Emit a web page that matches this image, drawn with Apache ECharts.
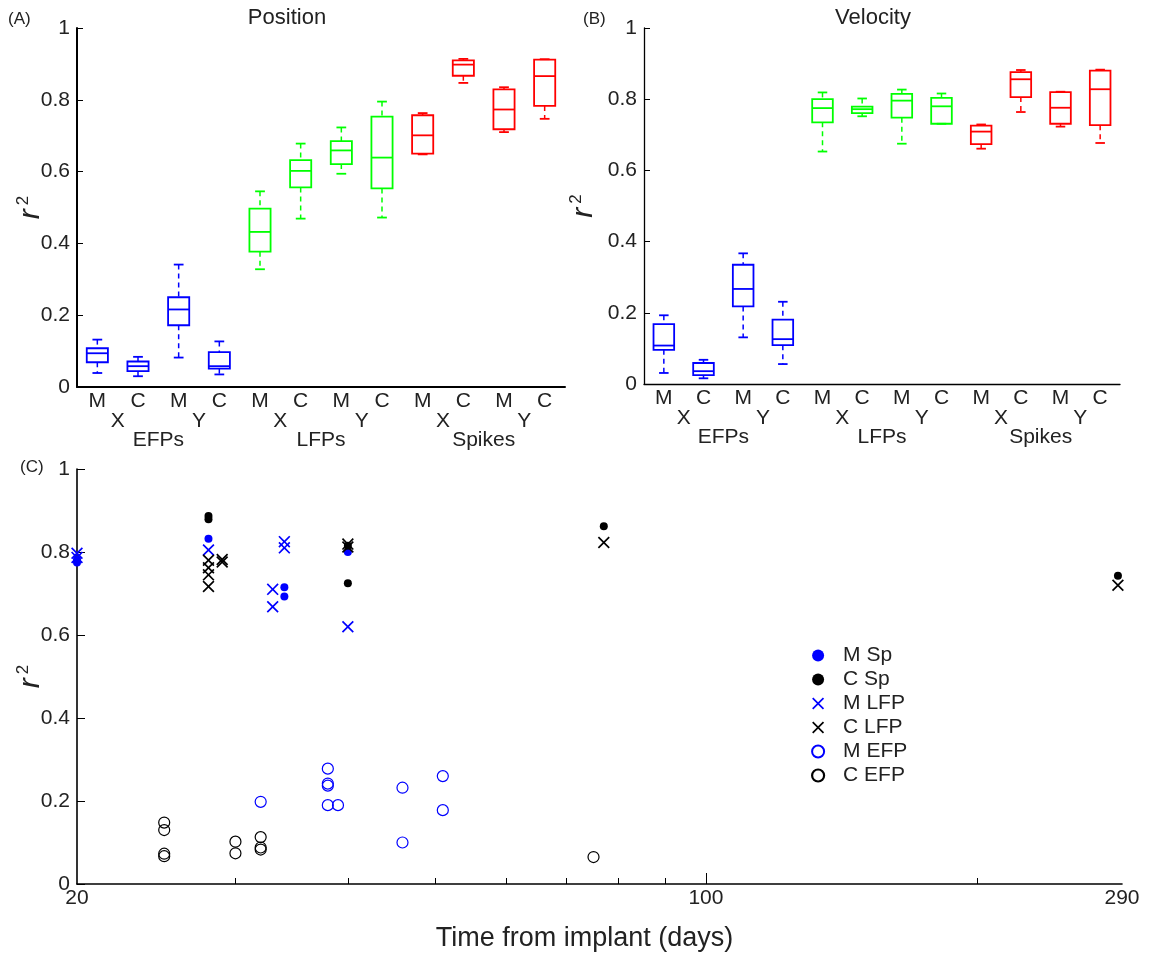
<!DOCTYPE html>
<html>
<head>
<meta charset="utf-8">
<script src="https://cdn.jsdelivr.net/npm/echarts@6.0.0/dist/echarts.min.js"></script>
<style>
  html, body { margin: 0; padding: 0; background: #fff; }
  #main { width: 1156px; height: 954px; }
</style>
</head>
<body>
<div id="main"></div>
<script>
// categories under the box plots
const cats = ["M", "C", "M", "C", "M", "C", "M", "C", "M", "C", "M", "C"];
const subPos = [0.5, 2.5, 4.5, 6.5, 8.5, 10.5];
const subNames = ["X", "Y", "X", "Y", "X", "Y"];
const groupPos = [1.5, 5.5, 9.5];
const groupNames = ["EFPs", "LFPs", "Spikes"];

// box stats: [min, q1, median, q3, max], order MX, CX, MY, CY
const posEFP = [[0.039, 0.069, 0.094, 0.108, 0.132], [0.030, 0.044, 0.058, 0.071, 0.084], [0.082, 0.172, 0.216, 0.250, 0.341], [0.035, 0.051, 0.058, 0.097, 0.127]];
const posLFP = [[0.328, 0.377, 0.432, 0.497, 0.545], [0.469, 0.556, 0.602, 0.632, 0.678], [0.594, 0.621, 0.659, 0.685, 0.723], [0.472, 0.553, 0.639, 0.753, 0.795]];
const posSpk = [[0.648, 0.650, 0.701, 0.757, 0.763], [0.847, 0.867, 0.898, 0.910, 0.914], [0.710, 0.718, 0.773, 0.829, 0.835], [0.747, 0.783, 0.866, 0.912, 0.913]];
const velEFP = [[0.031, 0.096, 0.108, 0.168, 0.193], [0.016, 0.025, 0.036, 0.059, 0.068], [0.131, 0.218, 0.267, 0.335, 0.367], [0.056, 0.109, 0.126, 0.181, 0.231]];
const velLFP = [[0.653, 0.735, 0.775, 0.800, 0.819], [0.752, 0.761, 0.772, 0.779, 0.802], [0.675, 0.748, 0.796, 0.815, 0.827], [0.731, 0.731, 0.780, 0.804, 0.816]];
const velSpk = [[0.661, 0.674, 0.709, 0.726, 0.729], [0.764, 0.806, 0.856, 0.876, 0.882], [0.723, 0.731, 0.776, 0.820, 0.821], [0.677, 0.727, 0.828, 0.880, 0.883]];

// panel C: [days, r2]
const mSp = [[20, 0.782], [20, 0.775], [28, 0.832], [34, 0.715], [34, 0.693], [40, 0.80]];
const cSp = [[28, 0.887], [28, 0.879], [40, 0.815], [40, 0.725], [77, 0.862], [287, 0.743]];
const mLfp = [[20, 0.797], [20, 0.787], [28, 0.805], [33, 0.71], [33, 0.668], [34, 0.825], [34, 0.81], [40, 0.62]];
const cLfp = [[28, 0.78], [28, 0.762], [28, 0.745], [28, 0.717], [29, 0.782], [29, 0.776], [40, 0.819], [40, 0.812], [77, 0.823], [287, 0.72]];
const mEfp = [[32, 0.198], [38, 0.278], [38, 0.242], [38, 0.237], [38, 0.19], [39, 0.19], [46, 0.232], [46, 0.1], [51, 0.26], [51, 0.178]];
const cEfp = [[25, 0.148], [25, 0.13], [25, 0.073], [25, 0.067], [30, 0.102], [30, 0.074], [32, 0.113], [32, 0.088], [32, 0.083], [75, 0.065]];

const dayLabels = [20, 100, 290];
const dayMinor = [30, 40, 50, 60, 70, 80, 90, 200];

const FONT = "'Liberation Sans', Arial, sans-serif";
const TXT = "#222";
const FS = 21;
const crossPath = "path://M0,1L1,0L5,4L9,0L10,1L6,5L10,9L9,10L5,6L1,10L0,9L4,5Z";

const chart = echarts.init(document.getElementById("main"));

function renderBox(params, api) {
  const i = api.value(0);
  const pMin = api.coord([i, api.value(1)]);
  const pQ1 = api.coord([i, api.value(2)]);
  const pMed = api.coord([i, api.value(3)]);
  const pQ3 = api.coord([i, api.value(4)]);
  const pMax = api.coord([i, api.value(5)]);
  const w = api.size([1, 0])[0];
  const half = w * 0.26;
  const cap = w * 0.12;
  const cx = pMed[0];
  const color = api.visual("color");
  const solid = { stroke: color, lineWidth: 1.8, fill: null };
  const dashed = { stroke: color, lineWidth: 1.5, lineDash: [5, 4], fill: null };
  return {
    type: "group",
    children: [
      { type: "line", shape: { x1: cx, y1: pMax[1], x2: cx, y2: pQ3[1] }, style: dashed },
      { type: "line", shape: { x1: cx, y1: pQ1[1], x2: cx, y2: pMin[1] }, style: dashed },
      { type: "line", shape: { x1: cx - cap, y1: pMax[1], x2: cx + cap, y2: pMax[1] }, style: solid },
      { type: "line", shape: { x1: cx - cap, y1: pMin[1], x2: cx + cap, y2: pMin[1] }, style: solid },
      { type: "rect", shape: { x: cx - half, y: pQ3[1], width: half * 2, height: pQ1[1] - pQ3[1] }, style: solid },
      { type: "line", shape: { x1: cx - half, y1: pMed[1], x2: cx + half, y2: pMed[1] }, style: solid },
    ],
  };
}

function boxSeries(stats, offset, color, xIdx, yIdx) {
  return {
    type: "custom",
    xAxisIndex: xIdx,
    yAxisIndex: yIdx,
    renderItem: renderBox,
    itemStyle: { color: color },
    encode: { x: 0, y: [1, 2, 3, 4, 5] },
    data: stats.map((d, k) => [offset + k].concat(d)),
    silent: true,
  };
}

function catAxes(gridIndex, lineWidth) {
  const hidden = {
    type: "value",
    gridIndex: gridIndex,
    position: "bottom",
    min: -0.5,
    max: 11.5,
    axisLine: { show: false, onZero: false },
    axisTick: { show: false },
    splitLine: { show: false },
  };
  return [
    {
      type: "category",
      gridIndex: gridIndex,
      position: "bottom",
      data: cats,
      axisLine: { onZero: false, lineStyle: { color: "#000", width: lineWidth } },
      axisTick: { show: false },
      axisLabel: { color: TXT, fontSize: FS, fontFamily: FONT, margin: 4 },
    },
    Object.assign({}, hidden, {
      axisLabel: {
        customValues: subPos,
        formatter: (v) => subNames[subPos.indexOf(v)],
        color: TXT, fontSize: FS, fontFamily: FONT, margin: 24,
      },
    }),
    Object.assign({}, hidden, {
      axisLabel: {
        customValues: groupPos,
        formatter: (v) => groupNames[groupPos.indexOf(v)],
        color: TXT, fontSize: FS, fontFamily: FONT, margin: 43,
      },
    }),
  ];
}

function r2Axis(gridIndex, lineWidth, tickLen, gap) {
  return {
    type: "value",
    gridIndex: gridIndex,
    position: "left",
    min: 0,
    max: 1,
    interval: 0.2,
    name: "{r|r}{s|2}",
    nameLocation: "middle",
    nameRotate: 90,
    nameGap: gap,
    nameMoveOverlap: false,
    nameTextStyle: {
      rich: {
        r: { fontSize: 30, fontStyle: "italic", fontFamily: FONT, color: TXT },
        s: { fontSize: 17, fontFamily: FONT, color: TXT, verticalAlign: "top", padding: [0, 0, 14, 4] },
      },
    },
    axisLine: { show: true, onZero: false, lineStyle: { color: "#000", width: lineWidth } },
    axisTick: { show: true, inside: true, length: tickLen, lineStyle: { color: "#000" } },
    axisLabel: { color: TXT, fontSize: FS, fontFamily: FONT, margin: 7 },
    splitLine: { show: false },
  };
}

const catA = catAxes(0, 2);
const catB = catAxes(1, 1.3);

const option = {
  animation: false,
  backgroundColor: "#fff",
  textStyle: { fontFamily: FONT },
  grid: [
    { left: 77, top: 28, width: 488, height: 359, outerBoundsMode: "none", containLabel: false },
    { left: 644, top: 28, width: 476, height: 356, outerBoundsMode: "none", containLabel: false },
    { left: 77, top: 469, width: 1045, height: 415, outerBoundsMode: "none", containLabel: false },
  ],
  graphic: [
    { type: "text", x: 287, y: 18, style: { text: "Position", fontSize: 22, fontFamily: FONT, fill: TXT, textAlign: "center", textVerticalAlign: "middle" } },
    { type: "text", x: 873, y: 18, style: { text: "Velocity", fontSize: 22, fontFamily: FONT, fill: TXT, textAlign: "center", textVerticalAlign: "middle" } },
    { type: "text", x: 8, y: 19, style: { text: "(A)", fontSize: 17, fontFamily: FONT, fill: TXT, textVerticalAlign: "middle" } },
    { type: "text", x: 583, y: 19, style: { text: "(B)", fontSize: 17, fontFamily: FONT, fill: TXT, textVerticalAlign: "middle" } },
    { type: "text", x: 20, y: 467, style: { text: "(C)", fontSize: 17, fontFamily: FONT, fill: TXT, textVerticalAlign: "middle" } },
  ],
  legend: {
    orient: "vertical",
    left: 806,
    top: 640,
    itemWidth: 12,
    itemHeight: 12,
    itemGap: 3,
    textStyle: { color: TXT, fontSize: FS, fontFamily: FONT, padding: [0, 0, 0, 14] },
    data: [
      { name: "M Sp", icon: "circle", itemStyle: { color: "#0000ff" } },
      { name: "C Sp", icon: "circle", itemStyle: { color: "#000" } },
      { name: "M LFP", icon: crossPath },
      { name: "C LFP", icon: crossPath },
      { name: "M EFP", icon: "circle" },
      { name: "C EFP", icon: "circle", itemStyle: { color: "transparent", borderColor: "#000", borderWidth: 2.2 } },
    ],
  },
  xAxis: [
    ...catA,
    ...catB,
    {
      type: "log",
      logBase: 10,
      gridIndex: 2,
      position: "bottom",
      min: 20,
      max: 290,
      axisLine: { onZero: false, lineStyle: { color: "#000", width: 1.6 } },
      axisTick: { show: true, inside: true, length: 6, customValues: dayMinor, lineStyle: { color: "#000" } },
      axisLabel: { show: false },
      splitLine: { show: false },
      name: "Time from implant (days)",
      nameLocation: "middle",
      nameGap: 41,
      nameMoveOverlap: false,
      nameTextStyle: { color: TXT, fontSize: 27, fontFamily: FONT, padding: [0, 30, 0, 0] },
    },
    {
      type: "log",
      logBase: 10,
      gridIndex: 2,
      position: "bottom",
      min: 20,
      max: 290,
      axisLine: { show: false, onZero: false },
      axisTick: { show: true, inside: true, length: 11, customValues: [100], lineStyle: { color: "#000" } },
      axisLabel: { customValues: dayLabels, color: TXT, fontSize: FS, fontFamily: FONT, margin: 4 },
      splitLine: { show: false },
    },
  ],
  yAxis: [
    r2Axis(0, 2, 6, 31),
    r2Axis(1, 1.3, 6, 45),
    r2Axis(2, 1.6, 8, 31),
  ],
  series: [
    boxSeries(posEFP, 0, "#0000ff", 0, 0),
    boxSeries(posLFP, 4, "#00ff00", 0, 0),
    boxSeries(posSpk, 8, "#ff0000", 0, 0),
    boxSeries(velEFP, 0, "#0000ff", 3, 1),
    boxSeries(velLFP, 4, "#00ff00", 3, 1),
    boxSeries(velSpk, 8, "#ff0000", 3, 1),
    {
      name: "M Sp", type: "scatter", xAxisIndex: 6, yAxisIndex: 2,
      symbol: "circle", symbolSize: 8, itemStyle: { color: "#0000ff", opacity: 1 }, data: mSp,
    },
    {
      name: "C Sp", type: "scatter", xAxisIndex: 6, yAxisIndex: 2,
      symbol: "circle", symbolSize: 8, itemStyle: { color: "#000", opacity: 1 }, data: cSp,
    },
    {
      name: "M LFP", type: "scatter", xAxisIndex: 6, yAxisIndex: 2,
      symbol: crossPath, symbolSize: 12, itemStyle: { color: "#0000ff", opacity: 1 }, data: mLfp,
    },
    {
      name: "C LFP", type: "scatter", xAxisIndex: 6, yAxisIndex: 2,
      symbol: crossPath, symbolSize: 12, itemStyle: { color: "#000", opacity: 1 }, data: cLfp,
    },
    {
      name: "M EFP", type: "scatter", xAxisIndex: 6, yAxisIndex: 2,
      symbol: "circle", symbolSize: 11,
      itemStyle: { color: "transparent", borderColor: "#0000ff", borderWidth: 1.2, opacity: 1 }, data: mEfp,
    },
    {
      name: "C EFP", type: "scatter", xAxisIndex: 6, yAxisIndex: 2,
      symbol: "circle", symbolSize: 11,
      itemStyle: { color: "transparent", borderColor: "#000", borderWidth: 1.2, opacity: 1 }, data: cEfp,
    },
  ],
};

chart.setOption(option);
window.onresize = function () {
  chart.resize();
};
</script>
</body>
</html>
